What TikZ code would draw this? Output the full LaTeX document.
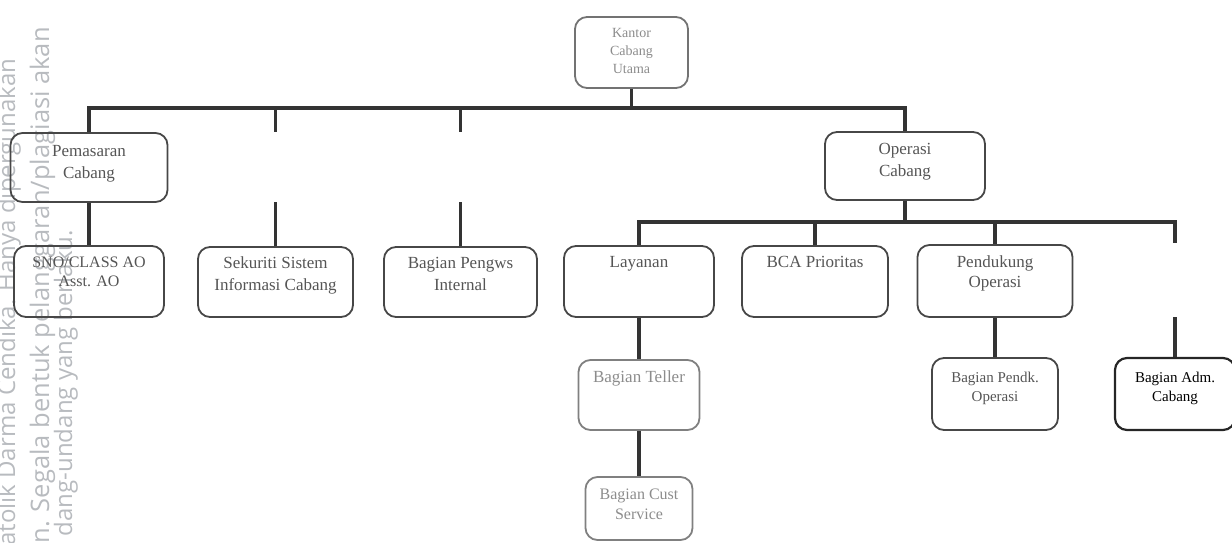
\documentclass[tikz,border=0pt]{standalone}
\usepackage{fontspec}
\setmainfont{Liberation Serif}
\newfontfamily\wmfont{Open Sans}
\definecolor{boxc}{HTML}{474747}
\definecolor{linec}{HTML}{333333}
\definecolor{txtc}{HTML}{555555}
\definecolor{faint}{HTML}{8C8C8C}
\definecolor{wmc}{HTML}{B8BBBF}
\newcommand{\bxt}[4]{\parbox[c][#2][t]{#1}{\centering\rule{0pt}{#3}#4}}
\tikzset{
  unit/.style={draw=boxc, line width=1.8pt, rounded corners=12pt, inner sep=0pt, text=txtc, font=\fontsize{17}{22}\selectfont},
  conn/.style={draw=linec, line width=3.2pt},
  wm/.style={text=wmc, rotate=90, inner sep=0pt, font=\wmfont\fontsize{24}{28}\selectfont},
}
\begin{document}
\begin{tikzpicture}[x=1pt,y=-1pt]
\useasboundingbox (0,0) rectangle (1232,543);
% watermark
\node[wm, anchor=base west] (w1) at (15,546) {atolik Darma Cendika. Hanya dipergunakan};
\node[wm, anchor=base east, font=\wmfont\fontsize{25.5}{28}\selectfont] (w2) at (49,27) {n. Segala bentuk pelanggaran/plagiasi akan};
\node[wm, anchor=base east] (w3) at (72,230) {dang-undang yang berlaku.};
% boxes
\node[unit, font=\fontsize{14}{18}\selectfont, text=faint, draw=black!55] (kan) at (631.5,52.5) {\bxt{113pt}{71pt}{21pt}{Kantor\\Cabang\\Utama}};
\node[unit] (pem) at (89,167.5) {\bxt{157pt}{69pt}{23pt}{Pemasaran\\Cabang}};
\node[unit] (ops) at (905,166) {\bxt{160pt}{68pt}{22pt}{Operasi\\Cabang}};
\node[unit, font=\fontsize{16}{19}\selectfont] (sno) at (89,281.5) {\bxt{150pt}{71pt}{21pt}{SNO/CLASS AO\\Asst. AO}};
\node[unit] (sek) at (275.5,282) {\bxt{155pt}{70pt}{21pt}{Sekuriti Sistem\\Informasi Cabang}};
\node[unit] (bpi) at (460.5,282) {\bxt{153pt}{70pt}{21pt}{Bagian Pengws\\Internal}};
\node[unit] (lay) at (639,281.5) {\bxt{150pt}{71pt}{21pt}{Layanan}};
\node[unit] (bca) at (815,281.5) {\bxt{146pt}{71pt}{21pt}{BCA Prioritas}};
\node[unit, font=\fontsize{17}{20}\selectfont] (pen) at (995,281) {\bxt{155pt}{72pt}{22pt}{Pendukung\\Operasi}};
\node[unit, text=faint, draw=black!50] (tel) at (639,395) {\bxt{121pt}{70pt}{22pt}{Bagian Teller}};
\node[unit, text=faint, draw=black!50, font=\fontsize{16}{20}\selectfont] (cus) at (639,508.5) {\bxt{107pt}{63pt}{22pt}{Bagian Cust\\Service}};
\node[unit, font=\fontsize{15}{19}\selectfont] (pdk) at (995,394) {\bxt{126pt}{72pt}{24pt}{Bagian Pendk.\\Operasi}};
\node[unit, text=black, draw=black!85, line width=2.2pt, font=\fontsize{15}{19}\selectfont] (adm) at (1175,394) {\bxt{120pt}{72pt}{24pt}{Bagian Adm.\\Cabang}};
% connectors
\coordinate (b1) at (0,108);
\coordinate (b2) at (0,222);
\draw[conn] (kan.south) -- (kan.south |- b1);
\draw[conn] (pem.north) -- (pem.north |- b1) -| (ops.north);
\draw[conn] (sek.north |- b1) -- ++(0,24);
\draw[conn] (sek.north) -- ++(0,-44);
\draw[conn] (bpi.north |- b1) -- ++(0,24);
\draw[conn] (bpi.north) -- ++(0,-44);
\draw[conn] (pem.south) -- (sno.north);
\draw[conn] (ops.south) -- (ops.south |- b2);
\draw[conn] (lay.north) -- (lay.north |- b2) -- (adm.north |- b2) -- ++(0,21);
\draw[conn] (bca.north) -- (bca.north |- b2);
\draw[conn] (pen.north) -- (pen.north |- b2);
\draw[conn] (lay.south) -- (tel.north);
\draw[conn] (tel.south) -- (cus.north);
\draw[conn] (pen.south) -- (pdk.north);
\draw[conn] (adm.north) -- ++(0,-40);
\end{tikzpicture}
\end{document}
